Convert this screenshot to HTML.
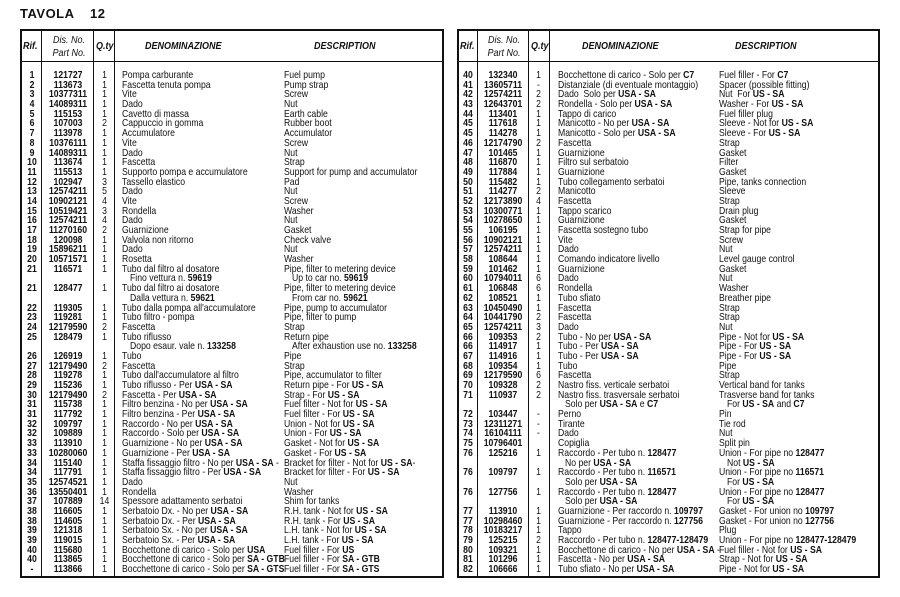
<!DOCTYPE html>
<html><head><meta charset="utf-8"><style>
html,body{margin:0;padding:0;background:#fff;}
body{width:900px;height:597px;position:relative;overflow:hidden;font-family:"Liberation Sans Narrow","Liberation Sans",sans-serif;color:#111;}
.title{position:absolute;top:6px;left:20px;font-family:"Liberation Sans",sans-serif;font-weight:bold;font-size:13px;letter-spacing:0.5px;}
.title b{position:absolute;left:70px;}
.box{position:absolute;top:29px;height:549px;border:2px solid #111;box-sizing:border-box;}
.vl{position:absolute;top:0;bottom:0;width:0;border-left:1.5px solid #111;}
.hl{position:absolute;left:0;right:0;top:30px;border-top:1.5px solid #111;}
.h{position:absolute;font-style:italic;font-weight:bold;font-size:10px;white-space:nowrap;transform:scaleX(0.9);transform-origin:left;}
.r{position:relative;height:9.7px;font-size:10.2px;line-height:9.7px;white-space:nowrap;}
.r span{position:absolute;top:0;transform:scaleX(0.85);transform-origin:left;}
.r span.ri,.r span.pn,.r span.q{transform-origin:center;}
.ri{text-align:center;width:20px;font-weight:bold;}
.pn{text-align:center;width:52px;font-weight:bold;}
.q{text-align:center;width:21px;}
</style></head><body>
<div class="title">TAVOLA<b>12</b></div>

<div class="box" style="left:20px;width:424px;">
<div class="vl" style="left:19px"></div>
<div class="vl" style="left:71px"></div>
<div class="vl" style="left:92px"></div>
<div class="hl"></div>
<div class="h" style="left:1px;top:10px">Rif.</div>
<div class="h" style="left:22px;width:50px;text-align:center;top:3px;font-weight:normal;line-height:13px;transform-origin:center">Dis. No.<br>Part No.</div>
<div class="h" style="left:74px;top:10px">Q.ty</div>
<div class="h" style="left:123px;top:10px">DENOMINAZIONE</div>
<div class="h" style="left:292px;top:10px">DESCRIPTION</div>
</div>

<div class="box" style="left:457px;width:423px;">
<div class="vl" style="left:18px"></div>
<div class="vl" style="left:69px"></div>
<div class="vl" style="left:90px"></div>
<div class="hl"></div>
<div class="h" style="left:1px;top:10px">Rif.</div>
<div class="h" style="left:20px;width:50px;text-align:center;top:3px;font-weight:normal;line-height:13px;transform-origin:center">Dis. No.<br>Part No.</div>
<div class="h" style="left:72px;top:10px">Q.ty</div>
<div class="h" style="left:123px;top:10px">DENOMINAZIONE</div>
<div class="h" style="left:276px;top:10px">DESCRIPTION</div>
</div>

<div style="position:absolute;left:20px;top:71px;width:424px;">
<div class="r"><span class="ri" style="left:2px">1</span><span class="pn" style="left:22px">121727</span><span class="q" style="left:74px">1</span><span style="left:102px">Pompa carburante</span><span style="left:264px">Fuel pump</span></div>
<div class="r"><span class="ri" style="left:2px">2</span><span class="pn" style="left:22px">113673</span><span class="q" style="left:74px">1</span><span style="left:102px">Fascetta tenuta pompa</span><span style="left:264px">Pump strap</span></div>
<div class="r"><span class="ri" style="left:2px">3</span><span class="pn" style="left:22px">10377311</span><span class="q" style="left:74px">1</span><span style="left:102px">Vite</span><span style="left:264px">Screw</span></div>
<div class="r"><span class="ri" style="left:2px">4</span><span class="pn" style="left:22px">14089311</span><span class="q" style="left:74px">1</span><span style="left:102px">Dado</span><span style="left:264px">Nut</span></div>
<div class="r"><span class="ri" style="left:2px">5</span><span class="pn" style="left:22px">115153</span><span class="q" style="left:74px">1</span><span style="left:102px">Cavetto di massa</span><span style="left:264px">Earth cable</span></div>
<div class="r"><span class="ri" style="left:2px">6</span><span class="pn" style="left:22px">107003</span><span class="q" style="left:74px">2</span><span style="left:102px">Cappuccio in gomma</span><span style="left:264px">Rubber boot</span></div>
<div class="r"><span class="ri" style="left:2px">7</span><span class="pn" style="left:22px">113978</span><span class="q" style="left:74px">1</span><span style="left:102px">Accumulatore</span><span style="left:264px">Accumulator</span></div>
<div class="r"><span class="ri" style="left:2px">8</span><span class="pn" style="left:22px">10376111</span><span class="q" style="left:74px">1</span><span style="left:102px">Vite</span><span style="left:264px">Screw</span></div>
<div class="r"><span class="ri" style="left:2px">9</span><span class="pn" style="left:22px">14089311</span><span class="q" style="left:74px">1</span><span style="left:102px">Dado</span><span style="left:264px">Nut</span></div>
<div class="r"><span class="ri" style="left:2px">10</span><span class="pn" style="left:22px">113674</span><span class="q" style="left:74px">1</span><span style="left:102px">Fascetta</span><span style="left:264px">Strap</span></div>
<div class="r"><span class="ri" style="left:2px">11</span><span class="pn" style="left:22px">115513</span><span class="q" style="left:74px">1</span><span style="left:102px">Supporto pompa e accumulatore</span><span style="left:264px">Support for pump and accumulator</span></div>
<div class="r"><span class="ri" style="left:2px">12</span><span class="pn" style="left:22px">102947</span><span class="q" style="left:74px">3</span><span style="left:102px">Tassello elastico</span><span style="left:264px">Pad</span></div>
<div class="r"><span class="ri" style="left:2px">13</span><span class="pn" style="left:22px">12574211</span><span class="q" style="left:74px">5</span><span style="left:102px">Dado</span><span style="left:264px">Nut</span></div>
<div class="r"><span class="ri" style="left:2px">14</span><span class="pn" style="left:22px">10902121</span><span class="q" style="left:74px">4</span><span style="left:102px">Vite</span><span style="left:264px">Screw</span></div>
<div class="r"><span class="ri" style="left:2px">15</span><span class="pn" style="left:22px">10519421</span><span class="q" style="left:74px">3</span><span style="left:102px">Rondella</span><span style="left:264px">Washer</span></div>
<div class="r"><span class="ri" style="left:2px">16</span><span class="pn" style="left:22px">12574211</span><span class="q" style="left:74px">4</span><span style="left:102px">Dado</span><span style="left:264px">Nut</span></div>
<div class="r"><span class="ri" style="left:2px">17</span><span class="pn" style="left:22px">11270160</span><span class="q" style="left:74px">2</span><span style="left:102px">Guarnizione</span><span style="left:264px">Gasket</span></div>
<div class="r"><span class="ri" style="left:2px">18</span><span class="pn" style="left:22px">120098</span><span class="q" style="left:74px">1</span><span style="left:102px">Valvola non ritorno</span><span style="left:264px">Check valve</span></div>
<div class="r"><span class="ri" style="left:2px">19</span><span class="pn" style="left:22px">15896211</span><span class="q" style="left:74px">1</span><span style="left:102px">Dado</span><span style="left:264px">Nut</span></div>
<div class="r"><span class="ri" style="left:2px">20</span><span class="pn" style="left:22px">10571571</span><span class="q" style="left:74px">1</span><span style="left:102px">Rosetta</span><span style="left:264px">Washer</span></div>
<div class="r"><span class="ri" style="left:2px">21</span><span class="pn" style="left:22px">116571</span><span class="q" style="left:74px">1</span><span style="left:102px">Tubo dal filtro al dosatore</span><span style="left:264px">Pipe, filter to metering device</span></div>
<div class="r"><span style="left:110px">Fino vettura n. <b>59619</b></span><span style="left:272px">Up to car no. <b>59619</b></span></div>
<div class="r"><span class="ri" style="left:2px">21</span><span class="pn" style="left:22px">128477</span><span class="q" style="left:74px">1</span><span style="left:102px">Tubo dal filtro ai dosatore</span><span style="left:264px">Pipe, filter to metering device</span></div>
<div class="r"><span style="left:110px">Dalla vettura n. <b>59621</b></span><span style="left:272px">From car no. <b>59621</b></span></div>
<div class="r"><span class="ri" style="left:2px">22</span><span class="pn" style="left:22px">119305</span><span class="q" style="left:74px">1</span><span style="left:102px">Tubo dalla pompa all'accumulatore</span><span style="left:264px">Pipe, pump to accumulator</span></div>
<div class="r"><span class="ri" style="left:2px">23</span><span class="pn" style="left:22px">119281</span><span class="q" style="left:74px">1</span><span style="left:102px">Tubo filtro - pompa</span><span style="left:264px">Pipe, filter to pump</span></div>
<div class="r"><span class="ri" style="left:2px">24</span><span class="pn" style="left:22px">12179590</span><span class="q" style="left:74px">2</span><span style="left:102px">Fascetta</span><span style="left:264px">Strap</span></div>
<div class="r"><span class="ri" style="left:2px">25</span><span class="pn" style="left:22px">128479</span><span class="q" style="left:74px">1</span><span style="left:102px">Tubo riflusso</span><span style="left:264px">Return pipe</span></div>
<div class="r"><span style="left:110px">Dopo esaur. vale n. <b>133258</b></span><span style="left:272px">After exhaustion use no. <b>133258</b></span></div>
<div class="r"><span class="ri" style="left:2px">26</span><span class="pn" style="left:22px">126919</span><span class="q" style="left:74px">1</span><span style="left:102px">Tubo</span><span style="left:264px">Pipe</span></div>
<div class="r"><span class="ri" style="left:2px">27</span><span class="pn" style="left:22px">12179490</span><span class="q" style="left:74px">2</span><span style="left:102px">Fascetta</span><span style="left:264px">Strap</span></div>
<div class="r"><span class="ri" style="left:2px">28</span><span class="pn" style="left:22px">119278</span><span class="q" style="left:74px">1</span><span style="left:102px">Tubo dall'accumulatore al filtro</span><span style="left:264px">Pipe, accumulator to filter</span></div>
<div class="r"><span class="ri" style="left:2px">29</span><span class="pn" style="left:22px">115236</span><span class="q" style="left:74px">1</span><span style="left:102px">Tubo riflusso - Per <b>USA - SA</b></span><span style="left:264px">Return pipe - For <b>US - SA</b></span></div>
<div class="r"><span class="ri" style="left:2px">30</span><span class="pn" style="left:22px">12179490</span><span class="q" style="left:74px">2</span><span style="left:102px">Fascetta - Per <b>USA - SA</b></span><span style="left:264px">Strap - For <b>US - SA</b></span></div>
<div class="r"><span class="ri" style="left:2px">31</span><span class="pn" style="left:22px">115738</span><span class="q" style="left:74px">1</span><span style="left:102px">Filtro benzina - No per <b>USA - SA</b></span><span style="left:264px">Fuel filter - Not for <b>US - SA</b></span></div>
<div class="r"><span class="ri" style="left:2px">31</span><span class="pn" style="left:22px">117792</span><span class="q" style="left:74px">1</span><span style="left:102px">Filtro benzina - Per <b>USA - SA</b></span><span style="left:264px">Fuel filter - For <b>US - SA</b></span></div>
<div class="r"><span class="ri" style="left:2px">32</span><span class="pn" style="left:22px">109797</span><span class="q" style="left:74px">1</span><span style="left:102px">Raccordo - No per <b>USA - SA</b></span><span style="left:264px">Union - Not for <b>US - SA</b></span></div>
<div class="r"><span class="ri" style="left:2px">32</span><span class="pn" style="left:22px">109889</span><span class="q" style="left:74px">1</span><span style="left:102px">Raccordo - Solo per <b>USA - SA</b></span><span style="left:264px">Union - For <b>US - SA</b></span></div>
<div class="r"><span class="ri" style="left:2px">33</span><span class="pn" style="left:22px">113910</span><span class="q" style="left:74px">1</span><span style="left:102px">Guarnizione - No per <b>USA - SA</b></span><span style="left:264px">Gasket - Not for <b>US - SA</b></span></div>
<div class="r"><span class="ri" style="left:2px">33</span><span class="pn" style="left:22px">10280060</span><span class="q" style="left:74px">1</span><span style="left:102px">Guarnizione - Per <b>USA - SA</b></span><span style="left:264px">Gasket - For <b>US - SA</b></span></div>
<div class="r"><span class="ri" style="left:2px">34</span><span class="pn" style="left:22px">115140</span><span class="q" style="left:74px">1</span><span style="left:102px">Staffa fissaggio filtro - No per <b>USA - SA</b> -</span><span style="left:264px">Bracket for filter - Not for <b>US - SA</b>-</span></div>
<div class="r"><span class="ri" style="left:2px">34</span><span class="pn" style="left:22px">117791</span><span class="q" style="left:74px">1</span><span style="left:102px">Staffa fissaggio filtro - Per <b>USA - SA</b></span><span style="left:264px">Bracket for filter - For <b>US - SA</b></span></div>
<div class="r"><span class="ri" style="left:2px">35</span><span class="pn" style="left:22px">12574521</span><span class="q" style="left:74px">1</span><span style="left:102px">Dado</span><span style="left:264px">Nut</span></div>
<div class="r"><span class="ri" style="left:2px">36</span><span class="pn" style="left:22px">13550401</span><span class="q" style="left:74px">1</span><span style="left:102px">Rondella</span><span style="left:264px">Washer</span></div>
<div class="r"><span class="ri" style="left:2px">37</span><span class="pn" style="left:22px">107889</span><span class="q" style="left:74px">14</span><span style="left:102px">Spessore adattamento serbatoi</span><span style="left:264px">Shim for tanks</span></div>
<div class="r"><span class="ri" style="left:2px">38</span><span class="pn" style="left:22px">116605</span><span class="q" style="left:74px">1</span><span style="left:102px">Serbatoio Dx. - No per <b>USA - SA</b></span><span style="left:264px">R.H. tank - Not for <b>US - SA</b></span></div>
<div class="r"><span class="ri" style="left:2px">38</span><span class="pn" style="left:22px">114605</span><span class="q" style="left:74px">1</span><span style="left:102px">Serbatoio Dx. - Per <b>USA - SA</b></span><span style="left:264px">R.H. tank - For <b>US - SA</b></span></div>
<div class="r"><span class="ri" style="left:2px">39</span><span class="pn" style="left:22px">121318</span><span class="q" style="left:74px">1</span><span style="left:102px">Serbatoio Sx. - No per <b>USA - SA</b></span><span style="left:264px">L.H. tank - Not for <b>US - SA</b></span></div>
<div class="r"><span class="ri" style="left:2px">39</span><span class="pn" style="left:22px">119015</span><span class="q" style="left:74px">1</span><span style="left:102px">Serbatoio Sx. - Per <b>USA - SA</b></span><span style="left:264px">L.H. tank - For <b>US - SA</b></span></div>
<div class="r"><span class="ri" style="left:2px">40</span><span class="pn" style="left:22px">115680</span><span class="q" style="left:74px">1</span><span style="left:102px">Bocchettone di carico - Solo per <b>USA</b></span><span style="left:264px">Fuel filler - For <b>US</b></span></div>
<div class="r"><span class="ri" style="left:2px">40</span><span class="pn" style="left:22px">113865</span><span class="q" style="left:74px">1</span><span style="left:102px">Bocchettone di carico - Solo per <b>SA - GTB</b></span><span style="left:264px">Fuel filler - For <b>SA - GTB</b></span></div>
<div class="r"><span class="ri" style="left:2px">-</span><span class="pn" style="left:22px">113866</span><span class="q" style="left:74px">1</span><span style="left:102px">Bocchettone di carico - Solo per <b>SA - GTS</b></span><span style="left:264px">Fuel filler - For <b>SA - GTS</b></span></div>
</div>

<div style="position:absolute;left:457px;top:71px;width:423px;">
<div class="r"><span class="ri" style="left:1px">40</span><span class="pn" style="left:20px">132340</span><span class="q" style="left:71px">1</span><span style="left:101px">Bocchettone di carico - Solo per <b>C7</b></span><span style="left:262px">Fuel filler - For <b>C7</b></span></div>
<div class="r"><span class="ri" style="left:1px">41</span><span class="pn" style="left:20px">13605711</span><span class="q" style="left:71px">-</span><span style="left:101px">Distanziale (di eventuale montaggio)</span><span style="left:262px">Spacer (possible fitting)</span></div>
<div class="r"><span class="ri" style="left:1px">42</span><span class="pn" style="left:20px">12574211</span><span class="q" style="left:71px">2</span><span style="left:101px">Dado&nbsp; Solo per <b>USA - SA</b></span><span style="left:262px">Nut&nbsp; For <b>US - SA</b></span></div>
<div class="r"><span class="ri" style="left:1px">43</span><span class="pn" style="left:20px">12643701</span><span class="q" style="left:71px">2</span><span style="left:101px">Rondella - Solo per <b>USA - SA</b></span><span style="left:262px">Washer - For <b>US - SA</b></span></div>
<div class="r"><span class="ri" style="left:1px">44</span><span class="pn" style="left:20px">113401</span><span class="q" style="left:71px">1</span><span style="left:101px">Tappo di carico</span><span style="left:262px">Fuel filler plug</span></div>
<div class="r"><span class="ri" style="left:1px">45</span><span class="pn" style="left:20px">117618</span><span class="q" style="left:71px">1</span><span style="left:101px">Manicotto - No per <b>USA - SA</b></span><span style="left:262px">Sleeve - Not for <b>US - SA</b></span></div>
<div class="r"><span class="ri" style="left:1px">45</span><span class="pn" style="left:20px">114278</span><span class="q" style="left:71px">1</span><span style="left:101px">Manicotto - Solo per <b>USA - SA</b></span><span style="left:262px">Sleeve - For <b>US - SA</b></span></div>
<div class="r"><span class="ri" style="left:1px">46</span><span class="pn" style="left:20px">12174790</span><span class="q" style="left:71px">2</span><span style="left:101px">Fascetta</span><span style="left:262px">Strap</span></div>
<div class="r"><span class="ri" style="left:1px">47</span><span class="pn" style="left:20px">101465</span><span class="q" style="left:71px">1</span><span style="left:101px">Guarnizione</span><span style="left:262px">Gasket</span></div>
<div class="r"><span class="ri" style="left:1px">48</span><span class="pn" style="left:20px">116870</span><span class="q" style="left:71px">1</span><span style="left:101px">Filtro sul serbatoio</span><span style="left:262px">Filter</span></div>
<div class="r"><span class="ri" style="left:1px">49</span><span class="pn" style="left:20px">117884</span><span class="q" style="left:71px">1</span><span style="left:101px">Guarnizione</span><span style="left:262px">Gasket</span></div>
<div class="r"><span class="ri" style="left:1px">50</span><span class="pn" style="left:20px">115482</span><span class="q" style="left:71px">1</span><span style="left:101px">Tubo collegamento serbatoi</span><span style="left:262px">Pipe, tanks connection</span></div>
<div class="r"><span class="ri" style="left:1px">51</span><span class="pn" style="left:20px">114277</span><span class="q" style="left:71px">2</span><span style="left:101px">Manicotto</span><span style="left:262px">Sleeve</span></div>
<div class="r"><span class="ri" style="left:1px">52</span><span class="pn" style="left:20px">12173890</span><span class="q" style="left:71px">4</span><span style="left:101px">Fascetta</span><span style="left:262px">Strap</span></div>
<div class="r"><span class="ri" style="left:1px">53</span><span class="pn" style="left:20px">10300771</span><span class="q" style="left:71px">1</span><span style="left:101px">Tappo scarico</span><span style="left:262px">Drain plug</span></div>
<div class="r"><span class="ri" style="left:1px">54</span><span class="pn" style="left:20px">10278650</span><span class="q" style="left:71px">1</span><span style="left:101px">Guarnizione</span><span style="left:262px">Gasket</span></div>
<div class="r"><span class="ri" style="left:1px">55</span><span class="pn" style="left:20px">106195</span><span class="q" style="left:71px">1</span><span style="left:101px">Fascetta sostegno tubo</span><span style="left:262px">Strap for pipe</span></div>
<div class="r"><span class="ri" style="left:1px">56</span><span class="pn" style="left:20px">10902121</span><span class="q" style="left:71px">1</span><span style="left:101px">Vite</span><span style="left:262px">Screw</span></div>
<div class="r"><span class="ri" style="left:1px">57</span><span class="pn" style="left:20px">12574211</span><span class="q" style="left:71px">1</span><span style="left:101px">Dado</span><span style="left:262px">Nut</span></div>
<div class="r"><span class="ri" style="left:1px">58</span><span class="pn" style="left:20px">108644</span><span class="q" style="left:71px">1</span><span style="left:101px">Comando indicatore livello</span><span style="left:262px">Level gauge control</span></div>
<div class="r"><span class="ri" style="left:1px">59</span><span class="pn" style="left:20px">101462</span><span class="q" style="left:71px">1</span><span style="left:101px">Guarnizione</span><span style="left:262px">Gasket</span></div>
<div class="r"><span class="ri" style="left:1px">60</span><span class="pn" style="left:20px">10794011</span><span class="q" style="left:71px">6</span><span style="left:101px">Dado</span><span style="left:262px">Nut</span></div>
<div class="r"><span class="ri" style="left:1px">61</span><span class="pn" style="left:20px">106848</span><span class="q" style="left:71px">6</span><span style="left:101px">Rondella</span><span style="left:262px">Washer</span></div>
<div class="r"><span class="ri" style="left:1px">62</span><span class="pn" style="left:20px">108521</span><span class="q" style="left:71px">1</span><span style="left:101px">Tubo sfiato</span><span style="left:262px">Breather pipe</span></div>
<div class="r"><span class="ri" style="left:1px">63</span><span class="pn" style="left:20px">10450490</span><span class="q" style="left:71px">1</span><span style="left:101px">Fascetta</span><span style="left:262px">Strap</span></div>
<div class="r"><span class="ri" style="left:1px">64</span><span class="pn" style="left:20px">10441790</span><span class="q" style="left:71px">2</span><span style="left:101px">Fascetta</span><span style="left:262px">Strap</span></div>
<div class="r"><span class="ri" style="left:1px">65</span><span class="pn" style="left:20px">12574211</span><span class="q" style="left:71px">3</span><span style="left:101px">Dado</span><span style="left:262px">Nut</span></div>
<div class="r"><span class="ri" style="left:1px">66</span><span class="pn" style="left:20px">109353</span><span class="q" style="left:71px">2</span><span style="left:101px">Tubo - No per <b>USA - SA</b></span><span style="left:262px">Pipe - Not for <b>US - SA</b></span></div>
<div class="r"><span class="ri" style="left:1px">66</span><span class="pn" style="left:20px">114917</span><span class="q" style="left:71px">1</span><span style="left:101px">Tubo - Per <b>USA - SA</b></span><span style="left:262px">Pipe - For <b>US - SA</b></span></div>
<div class="r"><span class="ri" style="left:1px">67</span><span class="pn" style="left:20px">114916</span><span class="q" style="left:71px">1</span><span style="left:101px">Tubo - Per <b>USA - SA</b></span><span style="left:262px">Pipe - For <b>US - SA</b></span></div>
<div class="r"><span class="ri" style="left:1px">68</span><span class="pn" style="left:20px">109354</span><span class="q" style="left:71px">1</span><span style="left:101px">Tubo</span><span style="left:262px">Pipe</span></div>
<div class="r"><span class="ri" style="left:1px">69</span><span class="pn" style="left:20px">12179590</span><span class="q" style="left:71px">6</span><span style="left:101px">Fascetta</span><span style="left:262px">Strap</span></div>
<div class="r"><span class="ri" style="left:1px">70</span><span class="pn" style="left:20px">109328</span><span class="q" style="left:71px">2</span><span style="left:101px">Nastro fiss. verticale serbatoi</span><span style="left:262px">Vertical band for tanks</span></div>
<div class="r"><span class="ri" style="left:1px">71</span><span class="pn" style="left:20px">110937</span><span class="q" style="left:71px">2</span><span style="left:101px">Nastro fiss. trasversale serbatoi</span><span style="left:262px">Trasverse band for tanks</span></div>
<div class="r"><span style="left:108px">Solo per <b>USA - SA</b> e <b>C7</b></span><span style="left:270px">For <b>US - SA</b> and <b>C7</b></span></div>
<div class="r"><span class="ri" style="left:1px">72</span><span class="pn" style="left:20px">103447</span><span class="q" style="left:71px">-</span><span style="left:101px">Perno</span><span style="left:262px">Pin</span></div>
<div class="r"><span class="ri" style="left:1px">73</span><span class="pn" style="left:20px">12311271</span><span class="q" style="left:71px">-</span><span style="left:101px">Tirante</span><span style="left:262px">Tie rod</span></div>
<div class="r"><span class="ri" style="left:1px">74</span><span class="pn" style="left:20px">16104111</span><span class="q" style="left:71px">-</span><span style="left:101px">Dado</span><span style="left:262px">Nut</span></div>
<div class="r"><span class="ri" style="left:1px">75</span><span class="pn" style="left:20px">10796401</span><span style="left:101px">Copiglia</span><span style="left:262px">Split pin</span></div>
<div class="r"><span class="ri" style="left:1px">76</span><span class="pn" style="left:20px">125216</span><span class="q" style="left:71px">1</span><span style="left:101px">Raccordo - Per tubo n. <b>128477</b></span><span style="left:262px">Union - For pipe no <b>128477</b></span></div>
<div class="r"><span style="left:108px">No per <b>USA - SA</b></span><span style="left:270px">Not <b>US - SA</b></span></div>
<div class="r"><span class="ri" style="left:1px">76</span><span class="pn" style="left:20px">109797</span><span class="q" style="left:71px">1</span><span style="left:101px">Raccordo - Per tubo n. <b>116571</b></span><span style="left:262px">Union - For pipe no <b>116571</b></span></div>
<div class="r"><span style="left:108px">Solo per <b>USA - SA</b></span><span style="left:270px">For <b>US - SA</b></span></div>
<div class="r"><span class="ri" style="left:1px">76</span><span class="pn" style="left:20px">127756</span><span class="q" style="left:71px">1</span><span style="left:101px">Raccordo - Per tubo n. <b>128477</b></span><span style="left:262px">Union - For pipe no <b>128477</b></span></div>
<div class="r"><span style="left:108px">Solo per <b>USA - SA</b></span><span style="left:270px">For <b>US - SA</b></span></div>
<div class="r"><span class="ri" style="left:1px">77</span><span class="pn" style="left:20px">113910</span><span class="q" style="left:71px">1</span><span style="left:101px">Guarnizione - Per raccordo n. <b>109797</b></span><span style="left:262px">Gasket - For union no <b>109797</b></span></div>
<div class="r"><span class="ri" style="left:1px">77</span><span class="pn" style="left:20px">10298460</span><span class="q" style="left:71px">1</span><span style="left:101px">Guarnizione - Per raccordo n. <b>127756</b></span><span style="left:262px">Gasket - For union no <b>127756</b></span></div>
<div class="r"><span class="ri" style="left:1px">78</span><span class="pn" style="left:20px">10183217</span><span class="q" style="left:71px">1</span><span style="left:101px">Tappo</span><span style="left:262px">Plug</span></div>
<div class="r"><span class="ri" style="left:1px">79</span><span class="pn" style="left:20px">125215</span><span class="q" style="left:71px">2</span><span style="left:101px">Raccordo - Per tubo n. <b>128477-128479</b></span><span style="left:262px">Union - For pipe no <b>128477-128479</b></span></div>
<div class="r"><span class="ri" style="left:1px">80</span><span class="pn" style="left:20px">109321</span><span class="q" style="left:71px">1</span><span style="left:101px">Bocchettone di carico - No per <b>USA - SA</b> -</span><span style="left:262px">Fuel filler - Not for <b>US - SA</b></span></div>
<div class="r"><span class="ri" style="left:1px">81</span><span class="pn" style="left:20px">101296</span><span class="q" style="left:71px">1</span><span style="left:101px">Fascetta - No per <b>USA - SA</b></span><span style="left:262px">Strap - Not for <b>US - SA</b></span></div>
<div class="r"><span class="ri" style="left:1px">82</span><span class="pn" style="left:20px">106666</span><span class="q" style="left:71px">1</span><span style="left:101px">Tubo sfiato - No per <b>USA - SA</b></span><span style="left:262px">Pipe - Not for <b>US - SA</b></span></div>
</div>
</body></html>
